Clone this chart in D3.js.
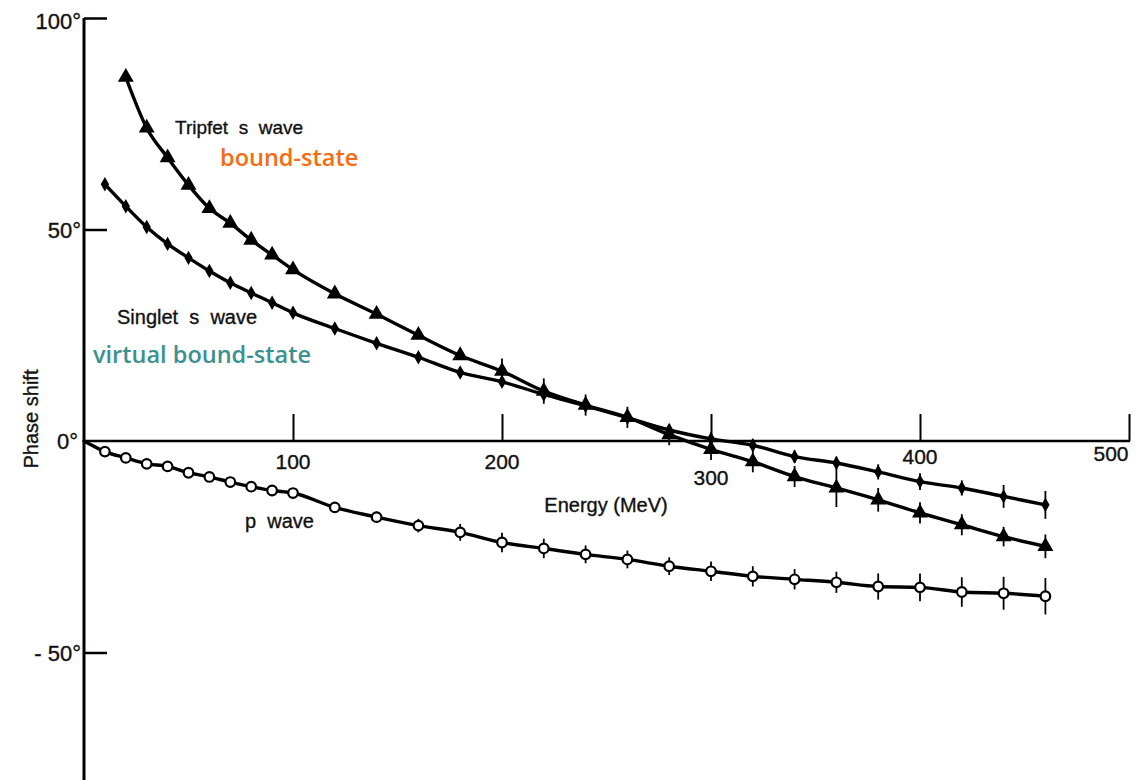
<!DOCTYPE html>
<html>
<head>
<meta charset="utf-8">
<script src="https://cdn.jsdelivr.net/npm/d3@7"></script>
<style>
  html, body { margin: 0; padding: 0; background: #fff; }
  svg { display: block; }
  .lbl { font-family: "Liberation Sans", Arial, sans-serif; fill: #111; stroke: #111; stroke-width: 0.35; }
</style>
</head>
<body>
<svg id="chart" width="1148" height="780"></svg>
<script>
// ---------------- data ----------------
const tripletEnergy = [20, 30, 40, 50, 60, 70, 80, 90, 100, 120, 140, 160, 180, 200, 220, 240, 260, 280, 300, 320, 340, 360, 380, 400, 420, 440, 460];
const tripletPhase  = [86, 74, 67, 60.5, 55, 51.5, 47.5, 44, 40.5, 34.8, 30, 25, 20.2, 16.5, 11.8, 8.5, 5.6, 1.5, -2, -4.9, -8.4, -11.1, -13.9, -17, -19.8, -22.6, -24.9];
const tripletError  = [0, 0, 0, 0, 0, 0, 0, 0, 0, 0, 0, 0, 0, 3, 3, 2.5, 2.5, 2.5, 2.5, 2.5, 2.5, 4.5, 2.8, 2.5, 2.5, 2.3, 2.8];

const singletEnergy = [10, 20, 30, 40, 50, 60, 70, 80, 90, 100, 120, 140, 160, 180, 200, 220, 240, 260, 280, 300, 320, 340, 360, 380, 400, 420, 440, 460];
const singletPhase  = [60.7, 55.5, 50.6, 46.6, 43.3, 40.2, 37.4, 35, 32.7, 30.3, 26.6, 23.1, 19.8, 16.2, 14, 11, 8.3, 5.5, 2.6, 0.5, -1, -3.7, -5.2, -7.3, -9.6, -11.1, -13.1, -15.1];
const singletError  = [0, 0, 0, 0, 0, 0, 0, 0, 0, 0, 0, 0, 0, 0, 0, 0, 0, 0, 0, 1.5, 1.5, 1.5, 1.5, 1.8, 2, 1.8, 2.7, 3.3];

const pEnergy = [10, 20, 30, 40, 50, 60, 70, 80, 90, 100, 120, 140, 160, 180, 200, 220, 240, 260, 280, 300, 320, 340, 360, 380, 400, 420, 440, 460];
const pPhase  = [-2.5, -4, -5.4, -6, -7.5, -8.5, -9.7, -10.8, -11.7, -12.3, -15.7, -18, -20, -21.6, -24, -25.4, -26.8, -28, -29.6, -30.8, -32, -32.7, -33.4, -34.4, -34.6, -35.7, -36, -36.7];
const pError  = [0, 0, 0, 0, 0, 0, 0, 0, 0, 0, 0, 1.3, 1.6, 2, 2.3, 2.3, 2.1, 2.1, 2.1, 2.3, 2.4, 2.4, 2.5, 3.1, 3.3, 3.5, 3.9, 4.3];

const xTicks = [100, 200, 300, 400, 500];
const xTickLabels = ["100", "200", "300", "400", "500"];
const yTicks = [100, 50, 0, -50];
const yTickLabels = ["100°", "50°", "0°", "- 50°"];

const xTitle = "Energy (MeV)";
const yTitle = "Phase shift";
const curveLabels = ["Tripfet  s  wave", "Singlet  s  wave", "p  wave"];
const noteLabels = ["bound-state", "virtual bound-state"];

// ---------------- chart ----------------
const svg = d3.select("#chart");
const x = d3.scaleLinear().domain([0, 500]).range([84, 1129]);
const y = d3.scaleLinear().domain([0, 100]).range([441, 18]);

// axes lines
svg.append("line").attr("x1", x(0)).attr("x2", x(0))
  .attr("y1", y(100)).attr("y2", 780).attr("stroke", "#000").attr("stroke-width", 3);
svg.append("line").attr("x1", x(0)).attr("x2", x(500) + 1)
  .attr("y1", y(0)).attr("y2", y(0)).attr("stroke", "#000").attr("stroke-width", 2.5);

// x ticks (pointing up)
const xAxis = d3.axisTop(x).tickValues(xTicks).tickSize(27).tickFormat("");
const gx = svg.append("g").attr("transform", `translate(0,${y(0)})`).call(xAxis);
gx.select(".domain").remove();
gx.selectAll(".tick line").attr("stroke", "#000").attr("stroke-width", 2);

// x tick labels
const xLabelDy = {300: 44, 500: 20, 400: 23};
svg.append("g").selectAll("text").data(xTicks).join("text")
  .attr("class", "lbl")
  .attr("x", (d) => d === 500 ? x(d) - 18 : x(d))
  .attr("y", (d) => y(0) + (xLabelDy[d] !== undefined ? xLabelDy[d] : 28))
  .attr("text-anchor", "middle")
  .attr("font-size", 21)
  .text((d, i) => xTickLabels[i]);

// y ticks (pointing right)
const yAxis = d3.axisRight(y).tickValues(yTicks.filter(v => v !== 0)).tickSize(23).tickFormat("");
const gy = svg.append("g").attr("transform", `translate(${x(0)},0)`).call(yAxis);
gy.select(".domain").remove();
gy.selectAll(".tick line").attr("stroke", "#000").attr("stroke-width", 2.5);

svg.append("g").selectAll("text").data(yTicks).join("text")
  .attr("class", "lbl")
  .attr("x", (d) => d === 0 ? 78 : 81)
  .attr("y", (d) => y(d) + (d === 100 ? 11 : 8))
  .attr("text-anchor", "end")
  .attr("font-size", 22)
  .text((d, i) => yTickLabels[i]);

// axis titles
svg.append("text").attr("class", "lbl")
  .attr("x", 606).attr("y", 512).attr("text-anchor", "middle")
  .attr("font-size", 20).text(xTitle);
svg.append("text").attr("class", "lbl")
  .attr("transform", "translate(38,419) rotate(-90)")
  .attr("text-anchor", "middle").attr("font-size", 20).text(yTitle);

// series
const mk = (E, P, Er) => E.map((e, i) => ({e, p: P[i], err: Er[i]}));
const triplet = mk(tripletEnergy, tripletPhase, tripletError);
const singlet = mk(singletEnergy, singletPhase, singletError);
const pwave = mk(pEnergy, pPhase, pError);

const line = d3.line().x(d => x(d.e)).y(d => y(d.p)).curve(d3.curveMonotoneX);

function drawSeries(data, lead) {
  const pts = lead ? [lead].concat(data) : data;
  svg.append("path").datum(pts).attr("d", line)
    .attr("fill", "none").attr("stroke", "#000").attr("stroke-width", 3.4)
    .attr("stroke-linejoin", "round").attr("stroke-linecap", "round");
  svg.append("g").selectAll("line").data(data.filter(d => d.err > 0)).join("line")
    .attr("x1", d => x(d.e)).attr("x2", d => x(d.e))
    .attr("y1", d => y(d.p + d.err)).attr("y2", d => y(d.p - d.err))
    .attr("stroke", "#000").attr("stroke-width", 1.8);
}

drawSeries(pwave, {e: 0, p: 0});
drawSeries(singlet);
drawSeries(triplet);

// markers
svg.append("g").selectAll("path").data(triplet).join("path")
  .attr("transform", d => `translate(${x(d.e)},${y(d.p)})`)
  .attr("d", d3.symbol(d3.symbolTriangle, 110))
  .attr("fill", "#000");
svg.append("g").selectAll("path").data(singlet).join("path")
  .attr("transform", d => `translate(${x(d.e)},${y(d.p)})`)
  .attr("d", d3.symbol(d3.symbolDiamond, 60))
  .attr("fill", "#000");
svg.append("g").selectAll("circle").data(pwave).join("circle")
  .attr("cx", d => x(d.e)).attr("cy", d => y(d.p)).attr("r", 4.8)
  .attr("fill", "#fff").attr("stroke", "#000").attr("stroke-width", 2.2);

// curve labels
svg.append("text").attr("class", "lbl").attr("x", 175).attr("y", 134)
  .attr("font-size", 19).style("white-space", "pre").text(curveLabels[0]);
svg.append("text").attr("class", "lbl").attr("x", 117).attr("y", 324)
  .attr("font-size", 20).style("white-space", "pre").text(curveLabels[1]);
svg.append("text").attr("class", "lbl").attr("x", 245).attr("y", 528)
  .attr("font-size", 20).style("white-space", "pre").text(curveLabels[2]);

// colored notes
svg.append("text").attr("x", 220).attr("y", 166)
  .attr("font-family", "'Open Sans', 'DejaVu Sans', sans-serif").attr("font-weight", 600)
  .attr("font-size", 23.5).attr("fill", "#f76b12").text(noteLabels[0]);
svg.append("text").attr("x", 93).attr("y", 363)
  .attr("font-family", "'Open Sans', 'DejaVu Sans', sans-serif").attr("font-weight", 600)
  .attr("font-size", 23.5).attr("fill", "#3b9191").text(noteLabels[1]);
</script>
</body>
</html>
